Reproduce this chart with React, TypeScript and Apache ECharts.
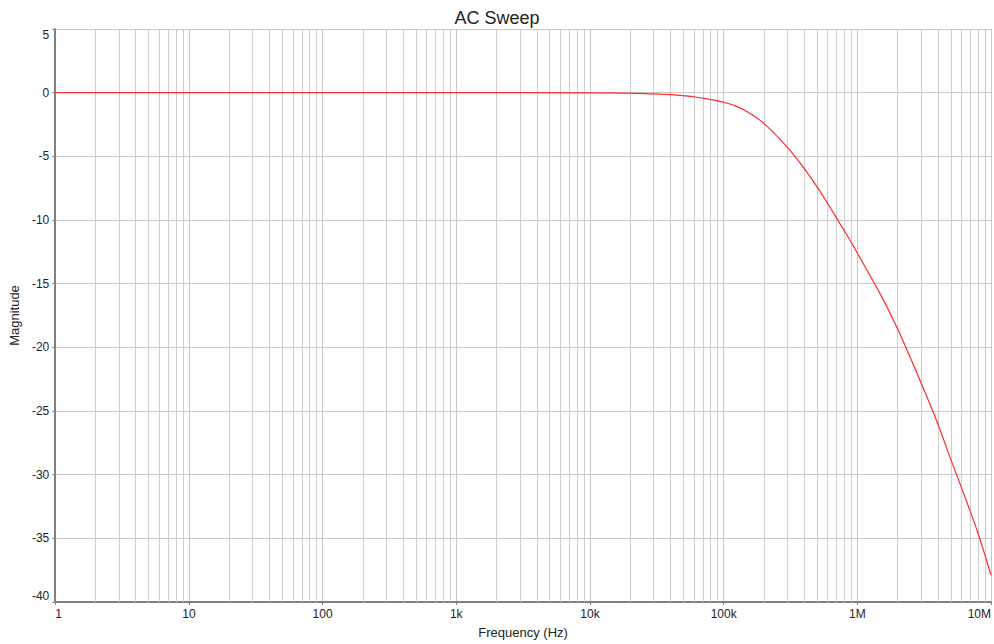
import React, { useEffect, useRef } from "react";
import * as echarts from "echarts";

const frequencies = [1, 10, 100, 1e3, 1e4, 2e4, 3e4, 4e4, 5e4, 6e4, 7e4, 8e4, 9e4, 1e5, 1.2e5, 1.5e5, 2e5, 3e5, 4e5, 5e5, 6e5, 7e5, 8e5, 9e5, 1e6, 1.5e6, 2e6, 3e6, 4e6, 5e6, 6e6, 7e6, 8e6, 9e6, 1e7];
const magnitudes = [0, 0, 0, 0, -0.01, -0.03, -0.1, -0.15, -0.24, -0.32, -0.43, -0.54, -0.64, -0.75, -1.0, -1.5, -2.41, -4.3, -5.94, -7.4, -8.7, -9.85, -10.85, -11.75, -12.6, -15.9, -18.55, -22.8, -26.0, -28.8, -31.0, -32.9, -34.6, -36.3, -37.9];
const decadeLabels: Record<number, string> = { 1: "1", 10: "10", 100: "100", 1000: "1k", 10000: "10k", 100000: "100k", 1000000: "1M", 10000000: "10M" };
const decades = [1, 10, 100, 1e3, 1e4, 1e5, 1e6];
const minorMultipliers = [2, 3, 4, 5, 6, 7, 8, 9];

export default function App() {
  const ref = useRef<HTMLDivElement>(null);
  useEffect(() => {
    if (!ref.current) return;
    const chart = echarts.init(ref.current, null, { renderer: "svg" });
    const font = "Liberation Sans, Arial, sans-serif";
    const gridLines: any[] = [];
    decades.forEach((d) => minorMultipliers.forEach((m) => gridLines.push({ xAxis: d * m })));
    chart.setOption({
      animation: false,
      backgroundColor: "#fff",
      title: {
        text: "AC Sweep",
        left: "center",
        top: 4,
        textStyle: { fontFamily: font, fontSize: 18, fontWeight: "normal", color: "#222" },
      },
      grid: { left: 52, right: 1, top: 29, bottom: 42 },
      xAxis: {
        type: "log",
        logBase: 10,
        min: 1,
        max: 1e7,
        name: "Frequency (Hz)",
        nameLocation: "middle",
        nameGap: 24,
        nameTextStyle: { fontFamily: font, fontSize: 13, color: "#222" },
        axisLine: { show: true, onZero: false, lineStyle: { color: "#808080", width: 2 } },
        axisTick: { show: true, length: 3, lineStyle: { color: "#808080" } },
        axisLabel: {
          fontFamily: font,
          fontSize: 12,
          color: "#222",
          margin: 6,
          alignMinLabel: "left",
          alignMaxLabel: "right",
          formatter: (v: number) => decadeLabels[Math.round(v)] ?? "",
        },
        splitLine: { show: true, lineStyle: { color: "#c8c8c8", width: 1 } },
        minorTick: { show: false },
      },
      yAxis: {
        type: "value",
        min: -40,
        max: 5,
        interval: 5,
        name: "Magnitude",
        nameLocation: "middle",
        nameGap: 31,
        nameTextStyle: { fontFamily: font, fontSize: 13, color: "#222" },
        axisLine: { show: true, onZero: false, lineStyle: { color: "#808080", width: 2 } },
        axisTick: { show: true, length: 3, lineStyle: { color: "#808080" } },
        axisLabel: {
          fontFamily: font,
          fontSize: 12,
          color: "#222",
          margin: 6,
          verticalAlignMaxLabel: "top",
          verticalAlignMinLabel: "bottom",
        },
        splitLine: { show: true, lineStyle: { color: "#c8c8c8", width: 1 } },
      },
      series: [
        {
          type: "line",
          data: frequencies.map((f, i) => [f, magnitudes[i]]),
          showSymbol: false,
          smooth: 0.3,
          lineStyle: { color: "#ff2a2a", width: 1.2 },
          z: 5,
          markLine: {
            silent: true,
            symbol: "none",
            label: { show: false },
            lineStyle: { color: "#cdcdcd", width: 1, type: "solid" },
            z: 1,
            data: gridLines,
          },
        },
      ],
    });
    return () => chart.dispose();
  }, []);
  return <div ref={ref} style={{ position: "absolute", left: 0, top: 0, width: 994, height: 644 }} />;
}
